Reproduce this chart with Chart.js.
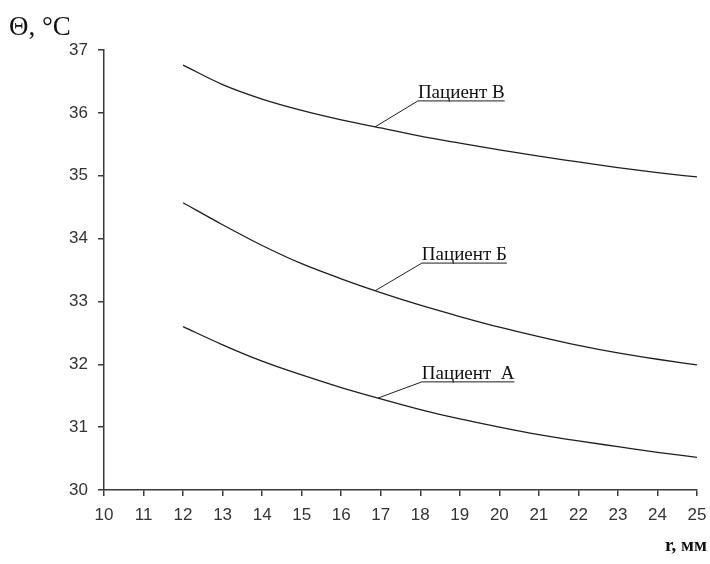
<!DOCTYPE html>
<html>
<head>
<meta charset="utf-8">
<script src="https://cdn.jsdelivr.net/npm/chart.js@4/dist/chart.umd.min.js"></script>
<style>
  html, body { margin: 0; padding: 0; background: #fff; }
  #wrap { width: 710px; height: 564px; position: relative; }
</style>
</head>
<body>
<div id="wrap"><canvas id="c"></canvas></div>
<script>
// Radius r, mm
const radiusMm = [12, 13, 14, 15, 16, 17, 18, 19, 20, 21, 22, 23, 24, 25];

// Temperature Θ, °C for each patient
const patientA = [32.60, 32.31, 32.05, 31.83, 31.63, 31.45, 31.28, 31.13, 31.00, 30.88, 30.78, 30.69, 30.60, 30.52];
const patientB = [34.57, 34.22, 33.89, 33.60, 33.36, 33.14, 32.94, 32.76, 32.59, 32.44, 32.30, 32.18, 32.08, 31.99];
const patientV = [36.76, 36.45, 36.22, 36.04, 35.89, 35.76, 35.63, 35.52, 35.41, 35.31, 35.22, 35.13, 35.05, 34.98];

const seriesNames = ['Пациент  А', 'Пациент Б', 'Пациент В'];

// Callout labels: point on the curve (x) and where the underlined caption starts (x, y)
const calloutAnchorX = [16.93, 16.86, 16.86];
const calloutLabelX = [18.04, 18.04, 17.94];
const calloutLabelY = [31.72, 33.61, 36.19];

const xTicks = { min: 10, max: 25, step: 1 };
const yTicks = { min: 30, max: 37, step: 1 };

const toPoints = vals => vals.map((v, i) => ({ x: radiusMm[i], y: v }));
const seriesValues = [patientA, patientB, patientV];

function valueAt(vals, x) {
  for (let i = 0; i < radiusMm.length - 1; i++) {
    if (x >= radiusMm[i] && x <= radiusMm[i + 1]) {
      const t = (x - radiusMm[i]) / (radiusMm[i + 1] - radiusMm[i]);
      return vals[i] + t * (vals[i + 1] - vals[i]);
    }
  }
  return vals[vals.length - 1];
}

const axisColor = '#3a3a3a';
const textColor = '#333';
const lineColor = '#1e1e1e';

const calloutPlugin = {
  id: 'callouts',
  afterDatasetsDraw(chart) {
    const { ctx, scales: { x, y } } = chart;
    ctx.save();
    ctx.strokeStyle = lineColor;
    ctx.lineWidth = 1;
    ctx.fillStyle = '#111';
    ctx.font = '19px "Liberation Serif", "Times New Roman", serif';
    ctx.textBaseline = 'alphabetic';
    seriesNames.forEach((name, i) => {
      const ax = x.getPixelForValue(calloutAnchorX[i]);
      const ay = y.getPixelForValue(valueAt(seriesValues[i], calloutAnchorX[i]));
      const lx = x.getPixelForValue(calloutLabelX[i]);
      const ly = y.getPixelForValue(calloutLabelY[i]);
      const w = ctx.measureText(name).width;
      ctx.beginPath();
      ctx.moveTo(ax, ay);
      ctx.lineTo(lx, ly);
      ctx.lineTo(lx + w, ly);
      ctx.stroke();
      ctx.fillText(name, lx, ly - 3);
    });
    ctx.restore();
  }
};

const axisTitlesPlugin = {
  id: 'axisTitles',
  afterDraw(chart) {
    const { ctx, chartArea } = chart;
    ctx.save();
    ctx.fillStyle = '#111';
    ctx.font = '27px "Liberation Serif", "Times New Roman", serif';
    ctx.textAlign = 'left';
    ctx.textBaseline = 'alphabetic';
    ctx.fillText('Θ, °C', 9, chartArea.top - 15);
    ctx.font = 'bold 19px "Liberation Serif", "Times New Roman", serif';
    ctx.textAlign = 'right';
    ctx.fillText('r, мм', chartArea.right + 10, chartArea.bottom + 61);
    ctx.restore();
  }
};

const tickFont = { family: '"Liberation Sans", Arial, sans-serif', size: 17 };

new Chart(document.getElementById('c'), {
  type: 'line',
  data: {
    datasets: seriesNames.map((name, i) => ({
      label: name,
      data: toPoints(seriesValues[i]),
      borderColor: lineColor,
      borderWidth: 1.3,
      pointRadius: 0,
      fill: false,
      cubicInterpolationMode: 'monotone'
    }))
  },
  options: {
    responsive: true,
    maintainAspectRatio: false,
    animation: false,
    layout: { padding: { top: 50, right: 13, left: 0, bottom: 0 } },
    plugins: { legend: { display: false }, tooltip: { enabled: false } },
    scales: {
      x: {
        type: 'linear',
        min: xTicks.min,
        max: xTicks.max,
        ticks: { stepSize: xTicks.step, color: textColor, font: tickFont, padding: 9, maxRotation: 0 },
        grid: { drawOnChartArea: false, drawTicks: true, tickLength: 6, color: axisColor, lineWidth: 1.5 },
        border: { display: true, color: axisColor, width: 1.5 },
        afterFit(s) { s.height = 74; s.paddingRight = 0; s.paddingLeft = 0; }
      },
      y: {
        type: 'linear',
        min: yTicks.min,
        max: yTicks.max,
        ticks: { stepSize: yTicks.step, color: textColor, font: tickFont, padding: 10 },
        grid: { drawOnChartArea: false, drawTicks: true, tickLength: 6, color: axisColor, lineWidth: 1.5 },
        border: { display: true, color: axisColor, width: 1.5 },
        afterFit(s) { s.width = 104; s.paddingTop = 0; s.paddingBottom = 0; }
      }
    }
  },
  plugins: [calloutPlugin, axisTitlesPlugin]
});
</script>
</body>
</html>
